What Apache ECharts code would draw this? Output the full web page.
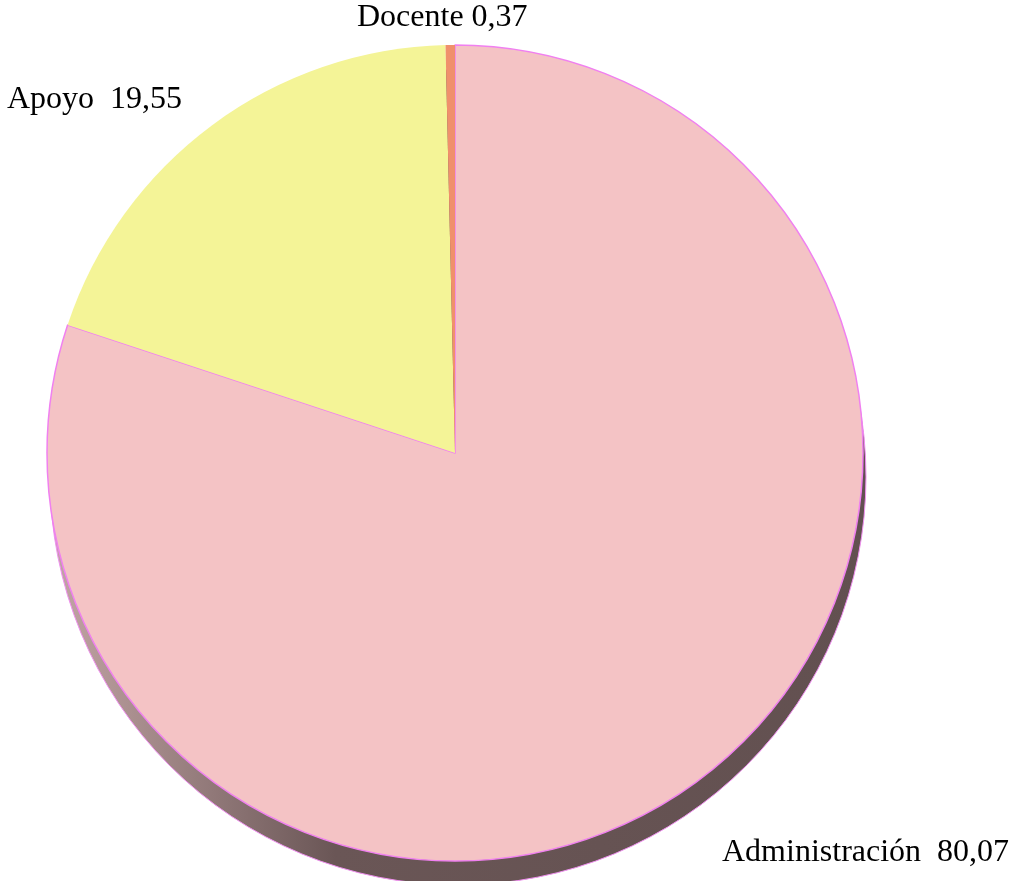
<!DOCTYPE html>
<html>
<head>
<meta charset="utf-8">
<script src="https://cdn.jsdelivr.net/npm/echarts@6/dist/echarts.min.js"></script>
<style>
html,body{margin:0;padding:0;background:#fff;}
#chart{width:1019px;height:881px;}
</style>
</head>
<body>
<div id="chart"></div>
<script>
const categories = ['Administración', 'Apoyo', 'Docente'];
const values = [80.07, 19.55, 0.37];
const labelSep = ['  ', '  ', ' '];
const sliceColors = ['#F4C3C5', '#F4F497', '#F0906C'];

const chart = echarts.init(document.getElementById('chart'), null, {renderer: 'canvas'});

const labelPos = [
  {x: 722, y: 853, align: 'left'},
  {x: 7, y: 100, align: 'left'},
  {x: 357, y: 18, align: 'left'}
];

const fmt = v => v.toFixed(2).replace('.', ',');

chart.setOption({
  animation: false,
  backgroundColor: '#ffffff',
  series: [
    {
      type: 'pie',
      silent: true,
      center: [458, 477],
      radius: 408,
      startAngle: 90,
      z: 1,
      label: {show: false},
      labelLine: {show: false},
      itemStyle: {
        color: new echarts.graphic.LinearGradient(0, 0, 1, 0, [
          {offset: 0, color: '#C4A6A6'},
          {offset: 0.35, color: '#6A5656'},
          {offset: 1, color: '#625050'}
        ]),
        borderColor: '#F090F0',
        borderWidth: 1
      },
      data: [{value: 1, name: 'shadow'}]
    },
    {
      type: 'pie',
      center: [455, 453],
      radius: 408,
      startAngle: 90,
      clockwise: true,
      z: 2,
      label: {
        show: true,
        position: 'outside',
        alignTo: 'none',
        overflow: 'none',
        fontFamily: 'Liberation Serif',
        fontSize: 32,
        color: '#000',
        formatter: p => p.name + labelSep[p.dataIndex] + fmt(values[p.dataIndex])
      },
      labelLine: {show: false},
      labelLayout: p => ({
        x: labelPos[p.dataIndex].x,
        y: labelPos[p.dataIndex].y,
        align: labelPos[p.dataIndex].align,
        verticalAlign: 'middle'
      }),
      data: categories.map((c, i) => ({
        name: c,
        value: values[i],
        itemStyle: {
          color: sliceColors[i],
          borderColor: i === 0 ? '#F080F0' : sliceColors[i],
          borderWidth: i === 0 ? 1.5 : 0
        }
      }))
    }
  ]
});
</script>
</body>
</html>
